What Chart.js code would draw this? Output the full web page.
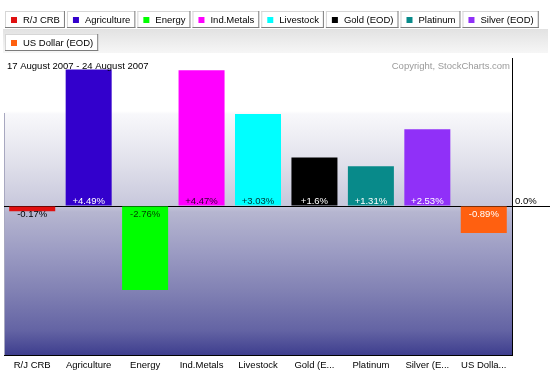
<!DOCTYPE html>
<html>
<head>
<meta charset="utf-8">
<script src="https://cdn.jsdelivr.net/npm/chart.js@4/dist/chart.umd.min.js"></script>
<style>
  body { margin: 0; background: #fff; }
  canvas { display: block; }
</style>
</head>
<body>
<canvas id="perfChart" width="550" height="376"></canvas>
<script>
// weekly % change, 17 - 24 August 2007
const categories = ['R/J CRB', 'Agriculture', 'Energy', 'Ind.Metals', 'Livestock', 'Gold (EOD)', 'Platinum', 'Silver (EOD)', 'US Dollar (EOD)'];
const tickLabels = ['R/J CRB', 'Agriculture', 'Energy', 'Ind.Metals', 'Livestock', 'Gold (E...', 'Platinum', 'Silver (E...', 'US Dolla...'];
const changes = [-0.17, 4.49, -2.76, 4.47, 3.03, 1.6, 1.31, 2.53, -0.89];
const dateRange = '17 August 2007 - 24 August 2007';

const barColors = ['#e01010', '#3300cc', '#00ff00', '#ff00ff', '#00ffff', '#000000', '#088a8a', '#9030f8', '#ff6010'];
const labelColors = ['#000000', '#ffffff', '#004400', '#330033', '#003333', '#ffffff', '#ffffff', '#ffffff', '#ffffff'];

const FONT = '"Liberation Sans", Arial, sans-serif';

// button style legend across the top
const legendButtons = {
  id: 'legendButtons',
  beforeDraw(chart) {
    const ctx = chart.ctx;
    ctx.save();
    const band = ctx.createLinearGradient(0, 29, 0, 53);
    band.addColorStop(0, '#e2e2e2');
    band.addColorStop(1, '#f6f6f6');
    ctx.fillStyle = band;
    ctx.fillRect(3, 29, 545, 24);

    ctx.font = '9.5px ' + FONT;
    ctx.textBaseline = 'middle';
    const h = 17;
    let x = 5, y = 11;
    categories.forEach((name, i) => {
      const w = 23 + ctx.measureText(name).width;
      if (x + w > 545) { x = 5; y += 23; }
      ctx.fillStyle = '#fff';
      ctx.fillRect(x, y, w, h);
      ctx.fillStyle = '#d6d6d6';
      ctx.fillRect(x, y, 1, h);
      ctx.fillRect(x, y, w, 1);
      ctx.fillStyle = '#7c7c7c';
      ctx.fillRect(x + w - 1, y, 1, h);
      ctx.fillRect(x, y + h - 1, w, 1);
      ctx.fillStyle = barColors[i];
      ctx.fillRect(x + 6, y + 6, 6, 6);
      ctx.fillStyle = '#000';
      ctx.fillText(name, x + 18, y + h / 2 + 1);
      x += w + 2;
    });
    ctx.restore();
  }
};

// white top, then lavender fading to dark blue
const plotBackground = {
  id: 'plotBackground',
  beforeDraw(chart) {
    const {ctx, chartArea: a} = chart;
    const span = a.bottom - a.top;
    const stop = (py) => Math.min(1, Math.max(0, (py - a.top) / span));
    const g = ctx.createLinearGradient(0, a.top, 0, a.bottom);
    g.addColorStop(0, '#ffffff');
    g.addColorStop(stop(111), '#ffffff');
    g.addColorStop(stop(114), '#f8f8fb');
    g.addColorStop(stop(160), '#e2e2ec');
    g.addColorStop(stop(205), '#c8c8dc');
    g.addColorStop(stop(212), '#b6b6d0');
    g.addColorStop(stop(250), '#9d9dc4');
    g.addColorStop(stop(290), '#8282b4');
    g.addColorStop(stop(330), '#6464a4');
    g.addColorStop(1, '#3e3e8e');
    ctx.save();
    ctx.fillStyle = g;
    ctx.fillRect(a.left, a.top, a.right - a.left, a.bottom - a.top);
    ctx.fillStyle = '#a8a8c0';
    ctx.fillRect(a.left, a.top + 55, 1, a.bottom - a.top - 55);
    ctx.restore();
  }
};

// value labels next to the zero line, date and copyright notes
const notes = {
  id: 'notes',
  afterDatasetsDraw(chart) {
    const {ctx, chartArea: a} = chart;
    const zero = chart.scales.y.getPixelForValue(0);
    const bars = chart.getDatasetMeta(0).data;
    ctx.save();
    ctx.font = '9.5px ' + FONT;
    ctx.textBaseline = 'middle';
    ctx.textAlign = 'center';
    changes.forEach((v, i) => {
      const txt = (v > 0 ? '+' : '') + v + '%';
      ctx.fillStyle = labelColors[i];
      ctx.fillText(txt, bars[i].x, v >= 0 ? zero - 5 : zero + 8);
    });
    ctx.textAlign = 'left';
    ctx.fillStyle = '#000';
    ctx.fillText(dateRange, a.left + 3, a.top + 8);
    ctx.textAlign = 'right';
    ctx.fillStyle = '#9a9a9a';
    ctx.fillText('Copyright, StockCharts.com', a.right - 2, a.top + 8);
    ctx.restore();
  }
};

new Chart(document.getElementById('perfChart'), {
  type: 'bar',
  data: {
    labels: tickLabels,
    datasets: [{
      label: 'Change',
      data: changes,
      backgroundColor: barColors,
      barPercentage: 0.815,
      categoryPercentage: 1
    }]
  },
  options: {
    responsive: false,
    animation: false,
    devicePixelRatio: 1,
    layout: { padding: { top: 58, left: 4, right: 0, bottom: 0 } },
    plugins: {
      legend: { display: false },
      tooltip: { enabled: false }
    },
    scales: {
      x: {
        grid: { display: true, color: 'rgba(0,0,0,0)', drawTicks: false },
        border: { display: true, color: '#000', width: 1 },
        ticks: { color: '#000', font: { family: FONT, size: 9.5 }, padding: 5, maxRotation: 0, autoSkip: false },
        afterFit(scale) { scale.height = 21; }
      },
      y: {
        position: 'right',
        min: -4.9,
        max: 4.87,
        grid: { color: '#000', tickLength: 38 },
        border: { display: true, color: '#000', width: 1 },
        ticks: {
          stepSize: 1,
          padding: -35,
          labelOffset: -5,
          color: '#000',
          font: { family: FONT, size: 9.5 },
          callback: v => v === 0 ? '0.0%' : ''
        },
        afterBuildTicks(scale) { scale.ticks = scale.ticks.filter(t => t.value === 0); },
        afterFit(scale) { scale.width = 38; }
      }
    }
  },
  plugins: [legendButtons, plotBackground, notes]
});
</script>
</body>
</html>
